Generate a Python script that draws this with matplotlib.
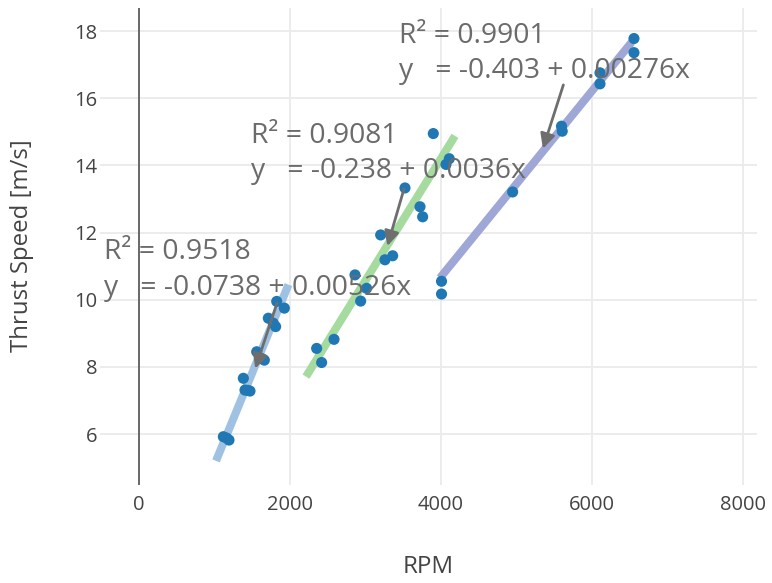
import matplotlib
matplotlib.use("Agg")
import matplotlib.pyplot as plt

plt.rcParams['font.family'] = ['Open Sans', 'DejaVu Sans']

rpm1 = [1117, 1192, 1160, 1382, 1404, 1470, 1440, 1559, 1660, 1620, 1713, 1810, 1780, 1824, 1925]
speed1 = [5.92, 5.82, 5.88, 7.66, 7.31, 7.28, 7.30, 8.45, 8.20, 8.25, 9.45, 9.20, 9.30, 9.95, 9.75]

rpm2 = [2353, 2419, 2583, 2861, 3015, 2936, 3201, 3258, 3360, 3523, 3722, 3757, 3898, 4110, 4066]
speed2 = [8.55, 8.13, 8.82, 10.74, 10.34, 9.96, 11.93, 11.19, 11.31, 13.33, 12.77, 12.47, 14.95, 14.20, 14.03]

rpm3 = [4007, 4007, 4949, 5596, 5606, 6106, 6106, 6556, 6556]
speed3 = [10.55, 10.17, 13.21, 15.17, 15.02, 16.76, 16.43, 17.78, 17.36]

# fit line end points
fit1_x = [1020, 1980]
fit1_y = [5.20, 10.45]
fit2_x = [2212, 4185]
fit2_y = [7.71, 14.88]
fit3_x = [3987, 6525]
fit3_y = [10.65, 17.67]

labels = ["R\u00b2 = 0.9518\ny   = -0.0738 + 0.00526x",
          "R\u00b2 = 0.9081\ny   = -0.238 + 0.0036x",
          "R\u00b2 = 0.9901\ny   = -0.403 + 0.00276x"]
label_pos = [(-465, 11.84), (1480, 15.3), (3440, 18.28)]
arrow_tail = [(1828, 9.9), (3510, 13.3), (5621, 16.4)]
arrow_head = [(1540, 7.95), (3290, 11.6), (5350, 14.5)]

fig = plt.figure(figsize=(7.72, 5.83), dpi=100)
ax = fig.add_axes([0.1295, 0.168, 0.851, 0.818])

ax.plot(fit1_x, fit1_y, color='#9fc2e2', lw=5.8, solid_capstyle='butt', zorder=2)
ax.plot(fit2_x, fit2_y, color='#a6dba0', lw=5.8, solid_capstyle='butt', zorder=2)
ax.plot(fit3_x, fit3_y, color='#9ea7d6', lw=5.8, solid_capstyle='butt', zorder=2)

for xs, ys in [(rpm1, speed1), (rpm2, speed2), (rpm3, speed3)]:
    ax.scatter(xs, ys, s=64, color='#1f77b4', edgecolors='none', zorder=3)

for txt, pos in zip(labels, label_pos):
    ax.text(pos[0], pos[1], txt, fontsize=20.3, color='#6b6b6b', va='top', ha='left',
            linespacing=1.36, zorder=4)

for tail, head in zip(arrow_tail, arrow_head):
    ax.annotate('', xy=head, xytext=tail,
                arrowprops=dict(arrowstyle='-|>', color='#6e6e6e', lw=2,
                                mutation_scale=22, shrinkA=0, shrinkB=0),
                zorder=5)

ax.set_xlim(-517, 8185)
ax.set_ylim(4.48, 18.685)
ax.set_xticks([0, 2000, 4000, 6000, 8000])
ax.set_yticks([6, 8, 10, 12, 14, 16, 18])
ax.grid(True, color='#ebebeb', lw=1.3)
ax.set_axisbelow(True)
ax.axvline(0, color='#444444', lw=1.1, zorder=1)
for s in ax.spines.values():
    s.set_visible(False)
ax.tick_params(axis='both', length=0, labelsize=14.5, colors='#444444')
ax.tick_params(axis='x', pad=7)
ax.tick_params(axis='y', pad=2)

fig.text(22 / 772, 1 - 246 / 583, 'Thrust Speed [m/s]', rotation=90, ha='center', va='center',
         fontsize=17.3, color='#444444')
fig.text(428 / 772, 1 - 567 / 583, 'RPM', ha='center', va='center', fontsize=17.5, color='#444444')

fig.savefig('out.png', dpi=100)
